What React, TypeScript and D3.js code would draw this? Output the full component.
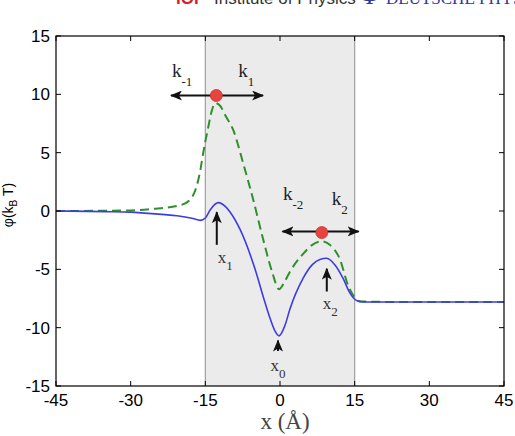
import React, { useEffect, useRef } from "react";
import * as d3 from "d3";

// potential curves
const blueX = [-45, -35, -30, -25, -20, -17.5, -16, -15, -14, -13, -12.4, -11, -10, -8, -5, -3.4, -2, -1, -0.2, 1, 2, 4.6, 6.5, 8, 9.4, 11, 12.7, 14, 15.5, 17, 25, 45];
const blueY = [0, -0.05, -0.1, -0.25, -0.45, -0.65, -0.8, -0.6, 0.1, 0.6, 0.72, 0.4, -0.1, -1.6, -5.0, -7.3, -9.2, -10.3, -10.7, -9.8, -8.4, -5.8, -4.6, -4.15, -4.05, -4.6, -5.8, -7.0, -7.7, -7.8, -7.8, -7.8];

const greenX = [-45, -30, -25, -20, -18, -17, -16, -15.5, -14.5, -13.7, -13, -12, -11, -9.4, -7.4, -5.4, -3.4, -1.6, -0.2, 1, 2, 4.6, 6.5, 8.4, 10, 12, 13.7, 15, 16, 25, 45];
const greenY = [0, 0.05, 0.2, 0.5, 1.0, 1.8, 3.5, 4.8, 7.0, 8.6, 9.25, 9.0, 8.2, 6.95, 4.1, 1.0, -2.4, -5.2, -6.7, -6.0, -5.2, -3.7, -2.9, -2.6, -2.9, -4.1, -6.4, -7.4, -7.75, -7.8, -7.8];

const xTicks = [-45, -30, -15, 0, 15, 30, 45];
const yTicks = [-15, -10, -5, 0, 5, 10, 15];
const shadeRange = [-15, 15];

// transition states and rate arrows
const dots = [
  { x: -12.8, y: 9.9 },
  { x: 8.4, y: -1.85 },
];
const rateArrows = [
  { x0: -12.8, x1: -21.9, y: 9.9 },
  { x0: -12.8, x1: -3.4, y: 9.9 },
  { x0: 8.4, x1: 0.5, y: -1.75 },
  { x0: 8.4, x1: 15.8, y: -1.75 },
];
const rateLabels = [
  { x: -21.7, y: 11.47, sub: "-1" },
  { x: -8.4, y: 11.47, sub: "1" },
  { x: 0.6, y: 0.98, sub: "-2" },
  { x: 10.4, y: 0.55, sub: "2" },
];
const stateArrows = [
  { x: -12.7, y0: -2.9, y1: -0.1 },
  { x: -0.4, y0: -12.0, y1: -11.1 },
  { x: 9.4, y0: -6.9, y1: -4.95 },
];
const stateLabels = [
  { x: -12.5, y: -4.45, sub: "1" },
  { x: -1.9, y: -13.75, sub: "0" },
  { x: 8.6, y: -8.4, sub: "2" },
];

function App() {
  const svgRef = useRef(null);

  useEffect(() => {
    const svg = d3.select(svgRef.current);
    svg.selectAll("*").remove();
    const margin = { top: 36, right: 11, bottom: 50, left: 56 };
    const width = 515;
    const height = 436;
    const x = d3.scaleLinear().domain([-45, 45]).range([margin.left, width - margin.right]);
    const y = d3.scaleLinear().domain([-15, 15]).range([height - margin.bottom, margin.top]);

    const defs = svg.append("defs");
    defs
      .append("marker")
      .attr("id", "head")
      .attr("viewBox", "0 0 12 10")
      .attr("refX", 11)
      .attr("refY", 5)
      .attr("markerWidth", 12)
      .attr("markerHeight", 10)
      .attr("markerUnits", "userSpaceOnUse")
      .attr("orient", "auto")
      .append("path")
      .attr("d", "M0,0 L12,5 L0,10 L3,5 Z")
      .attr("fill", "#111");

    // journal header, mostly cut off at the top
    const hdr = svg.append("text").attr("y", 4).attr("font-size", 17);
    hdr.append("tspan").attr("x", 176).attr("fill", "#d4202a").attr("font-family", "Liberation Sans, Arial").attr("font-weight", "bold").text("IOP");
    hdr.append("tspan").attr("x", 214).attr("fill", "#333").attr("font-family", "Liberation Sans, Arial").text("Institute of Physics");
    hdr.append("tspan").attr("x", 360).attr("fill", "#2a3a9a").attr("font-family", "Liberation Serif, serif").attr("font-size", 26).text("Φ");
    hdr.append("tspan").attr("x", 386).attr("fill", "#2a3a9a").attr("font-family", "Liberation Serif, serif").attr("font-size", 17).text("DEUTSCHE PHYSIKALISCHE");

    // shaded channel region
    svg
      .append("rect")
      .attr("x", x(shadeRange[0]))
      .attr("y", y(15))
      .attr("width", x(shadeRange[1]) - x(shadeRange[0]))
      .attr("height", y(-15) - y(15))
      .attr("fill", "#ebebeb");
    shadeRange.forEach((v) => {
      svg
        .append("line")
        .attr("x1", x(v))
        .attr("x2", x(v))
        .attr("y1", y(15))
        .attr("y2", y(-15))
        .attr("stroke", "#a0a0a0")
        .attr("stroke-width", 1.2);
    });

    const line = d3
      .line()
      .x((d) => x(d[0]))
      .y((d) => y(d[1]))
      .curve(d3.curveMonotoneX);

    svg
      .append("path")
      .datum(greenX.map((v, i) => [v, greenY[i]]))
      .attr("fill", "none")
      .attr("stroke", "#2f8f2f")
      .attr("stroke-width", 2)
      .attr("stroke-dasharray", "9,5")
      .attr("d", line);

    svg
      .append("path")
      .datum(blueX.map((v, i) => [v, blueY[i]]))
      .attr("fill", "none")
      .attr("stroke", "#3c3ce2")
      .attr("stroke-width", 1.6)
      .attr("d", line);

    // frame and inward ticks
    svg
      .append("rect")
      .attr("x", x(-45))
      .attr("y", y(15))
      .attr("width", x(45) - x(-45))
      .attr("height", y(-15) - y(15))
      .attr("fill", "none")
      .attr("stroke", "#000")
      .attr("stroke-width", 1.2);

    const ax = svg.append("g").attr("font-family", "Liberation Sans, Arial").attr("font-size", 17);
    xTicks.forEach((t) => {
      ax.append("line").attr("x1", x(t)).attr("x2", x(t)).attr("y1", y(-15)).attr("y2", y(-15) - 5).attr("stroke", "#000");
      ax.append("line").attr("x1", x(t)).attr("x2", x(t)).attr("y1", y(15)).attr("y2", y(15) + 5).attr("stroke", "#000");
      ax.append("text").attr("x", x(t)).attr("y", y(-15) + 20).attr("text-anchor", "middle").text(t);
    });
    yTicks.forEach((t) => {
      ax.append("line").attr("x1", x(-45)).attr("x2", x(-45) + 5).attr("y1", y(t)).attr("y2", y(t)).attr("stroke", "#000");
      ax.append("line").attr("x1", x(45)).attr("x2", x(45) - 5).attr("y1", y(t)).attr("y2", y(t)).attr("stroke", "#000");
      ax.append("text").attr("x", x(-45) - 6).attr("y", y(t) + 6).attr("text-anchor", "end").text(t);
    });

    // axis titles
    svg
      .append("text")
      .attr("x", x(0) + 5)
      .attr("y", 429)
      .attr("text-anchor", "middle")
      .attr("font-family", "Liberation Serif, serif")
      .attr("font-size", 23)
      .attr("fill", "#444")
      .text("x (Å)");

    const yl = svg
      .append("text")
      .attr("transform", `translate(13, ${y(0) - 6}) rotate(-90)`)
      .attr("text-anchor", "middle")
      .attr("font-family", "Liberation Sans, Arial")
      .attr("font-size", 14);
    yl.append("tspan").text("φ(k");
    yl.append("tspan").attr("font-size", 10).attr("dy", 4).text("B");
    yl.append("tspan").attr("dy", -4).text(" T)");

    // rate arrows
    rateArrows.forEach((a) => {
      svg
        .append("line")
        .attr("x1", x(a.x0))
        .attr("x2", x(a.x1))
        .attr("y1", y(a.y))
        .attr("y2", y(a.y))
        .attr("stroke", "#111")
        .attr("stroke-width", 2)
        .attr("marker-end", "url(#head)");
    });
    dots.forEach((d) => {
      svg
        .append("circle")
        .attr("cx", x(d.x))
        .attr("cy", y(d.y))
        .attr("r", 6)
        .attr("fill", "#e8443f")
        .attr("stroke", "#c43530")
        .attr("stroke-width", 0.8);
    });
    rateLabels.forEach((l) => {
      const t = svg
        .append("text")
        .attr("x", x(l.x))
        .attr("y", y(l.y))
        .attr("font-family", "Liberation Serif, serif")
        .attr("font-size", 19)
        .attr("fill", "#222");
      t.append("tspan").text("k");
      t.append("tspan").attr("font-size", 13).attr("dy", 9).text(l.sub);
    });

    // state arrows
    stateArrows.forEach((a) => {
      svg
        .append("line")
        .attr("x1", x(a.x))
        .attr("x2", x(a.x))
        .attr("y1", y(a.y0))
        .attr("y2", y(a.y1))
        .attr("stroke", "#111")
        .attr("stroke-width", 2)
        .attr("marker-end", "url(#head)");
    });
    stateLabels.forEach((l) => {
      const t = svg
        .append("text")
        .attr("x", x(l.x))
        .attr("y", y(l.y))
        .attr("font-family", "Liberation Serif, serif")
        .attr("font-size", 17)
        .attr("fill", "#333");
      t.append("tspan").text("x");
      t.append("tspan").attr("font-size", 13).attr("dy", 7).text(l.sub);
    });
  }, []);

  return (
    <svg
      ref={svgRef}
      width={515}
      height={436}
      style={{ position: "absolute", left: 0, top: 0, background: "#fff" }}
    ></svg>
  );
}

export default App;
